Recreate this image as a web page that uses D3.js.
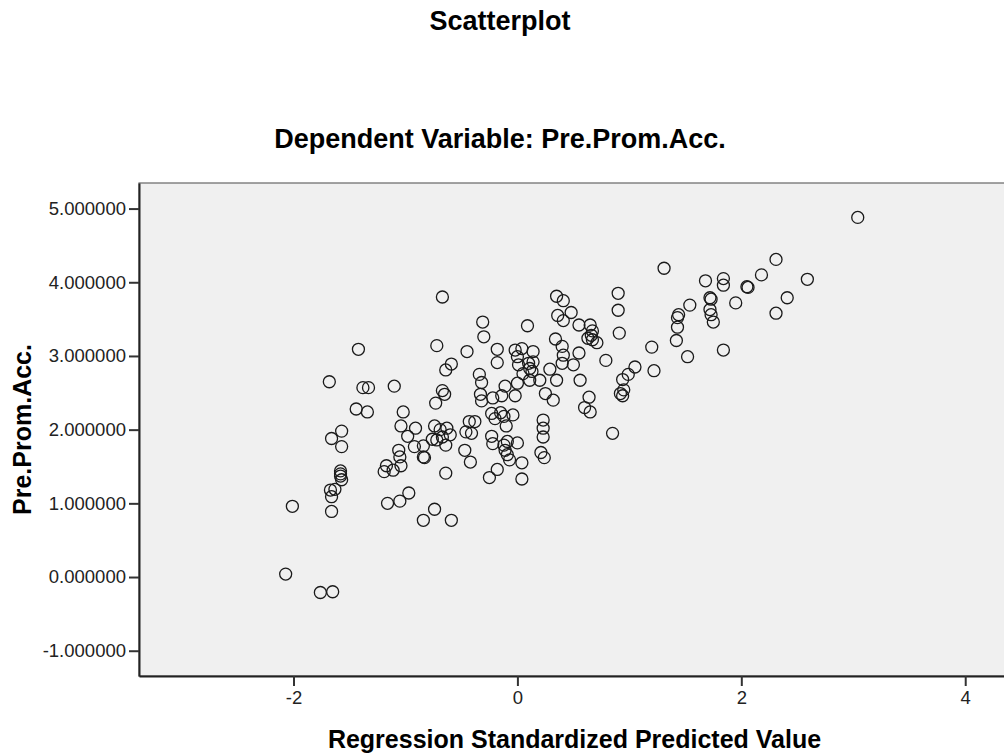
<!DOCTYPE html>
<html>
<head>
<meta charset="utf-8">
<script src="https://cdn.jsdelivr.net/npm/d3@7"></script>
<style>
    body { margin: 0; background: #fff; }
    text { font-family: "Liberation Sans", Arial, sans-serif; }
</style>
</head>
<body>
<div id="canvas"></div>
<script>
// Regression Standardized Predicted Value (x) and Pre.Prom.Acc. (y)
const predicted = [
    -2.07, -1.76, -1.65, -2.01, -1.66, -1.66, -1.67, -1.63, -1.58, -1.58, -1.58, -1.57,
    -1.66, -1.57, -1.57, -1.68, -1.42, -1.38, -1.33, -1.44, -1.34, -1.10, -1.17, -1.19,
    -1.11, -1.04, -1.16, -1.05, -0.97, -1.02, -1.04, -0.98, -0.91, -0.92, -0.84, -0.84,
    -1.06, -1.05, -0.84, -0.74, -0.59, -0.64, -0.67, -0.72, -0.45, -0.59, -0.64, -0.67,
    -0.65, -0.73, -0.74, -0.69, -0.67, -0.76, -0.64, -0.72, -0.83, -0.63, -0.60, -0.43,
    -0.38, -0.46, -0.41, -0.47, -0.42, -0.31, -0.30, -0.34, -0.32, -0.33, -0.32, -0.22,
    -0.14, -0.18, -0.18, -0.11, -0.02, -0.23, -0.15, -0.20, -0.04, -0.10, -0.12, -0.23,
    -0.22, -0.12, -0.09, 0.00, -0.11, -0.09, -0.07, 0.04, -0.18, -0.25, 0.04, 0.09,
    -0.02, 0.04, 0.14, 0.00, 0.01, 0.10, 0.14, 0.11, 0.05, 0.13, 0.29, 0.35,
    0.20, 0.11, 0.00, 0.25, 0.32, 0.23, 0.23, 0.23, 0.21, 0.24, 0.35, 0.41,
    0.48, 0.36, 0.41, 0.55, 0.34, 0.40, 0.41, 0.40, 0.50, 0.55, 0.56, 0.64,
    0.60, 0.65, 0.65, 0.67, 0.63, 0.67, 0.71, 0.66, 0.90, 0.90, 0.91, 0.79,
    1.05, 0.99, 0.94, 0.95, 0.92, 0.94, 0.85, 1.20, 1.22, 1.31, 1.54, 1.43,
    1.44, 1.43, 1.42, 1.52, 1.68, 1.84, 1.84, 2.05, 2.06, 2.18, 2.31, 2.59,
    2.41, 2.31, 1.72, 1.73, 1.95, 1.72, 1.73, 1.75, 1.84, 3.04
];
const preProm = [
    0.04, -0.21, -0.20, 0.96, 0.89, 1.09, 1.18, 1.19, 1.44, 1.40, 1.37, 1.32,
    1.88, 1.98, 1.77, 2.65, 3.09, 2.57, 2.57, 2.28, 2.24, 2.59, 1.51, 1.43,
    1.45, 1.51, 1.00, 1.03, 1.14, 2.24, 2.05, 1.91, 2.02, 1.77, 1.78, 1.63,
    1.72, 1.63, 0.77, 0.92, 0.77, 1.41, 3.80, 3.14, 3.06, 2.89, 2.81, 2.53,
    2.48, 2.36, 2.05, 2.00, 1.90, 1.87, 1.79, 1.86, 1.62, 2.02, 1.93, 2.11,
    2.11, 1.97, 1.95, 1.72, 1.56, 3.46, 3.26, 2.75, 2.64, 2.48, 2.39, 2.43,
    2.46, 3.09, 2.91, 2.59, 2.46, 2.22, 2.23, 2.15, 2.20, 2.05, 2.18, 1.91,
    1.81, 1.79, 1.84, 1.82, 1.72, 1.66, 1.59, 1.55, 1.46, 1.35, 1.33, 3.41,
    3.08, 3.10, 3.06, 2.99, 2.88, 2.90, 2.92, 2.83, 2.76, 2.79, 2.82, 2.67,
    2.67, 2.67, 2.63, 2.49, 2.40, 2.13, 2.02, 1.90, 1.69, 1.62, 3.81, 3.75,
    3.59, 3.55, 3.48, 3.42, 3.23, 3.13, 3.01, 2.90, 2.88, 3.04, 2.67, 2.44,
    2.30, 2.24, 3.42, 3.34, 3.24, 3.22, 3.18, 3.28, 3.85, 3.62, 3.31, 2.94,
    2.85, 2.75, 2.68, 2.54, 2.49, 2.46, 1.95, 3.12, 2.80, 4.19, 3.69, 3.52,
    3.56, 3.39, 3.21, 2.99, 4.02, 4.05, 3.96, 3.94, 3.93, 4.10, 4.31, 4.04,
    3.79, 3.58, 3.79, 3.77, 3.72, 3.63, 3.56, 3.46, 3.08, 4.88
];
const xTicks = [-2, 0, 2, 4];
const yTicks = [-1, 0, 1, 2, 3, 4, 5];

const chartTitle = 'Scatterplot';
const subTitle = 'Dependent Variable: Pre.Prom.Acc.';
const xTitle = 'Regression Standardized Predicted Value';
const yTitle = 'Pre.Prom.Acc.';

//dimensions
const width = 1004;
const height = 754;
const margin = { top: 183, right: -6, bottom: 78, left: 139 };
const graphWidth = width - margin.left - margin.right;
const graphHeight = height - margin.top - margin.bottom;

const svg = d3.select('#canvas')
    .append('svg')
    .attr('width', width)
    .attr('height', height);

const graph = svg.append('g')
    .attr('transform', `translate(${margin.left}, ${margin.top})`);

//scales
const x = d3.scaleLinear().domain([-3.38, 4.40]).range([0, graphWidth]);
const y = d3.scaleLinear().domain([-1.343, 5.347]).range([graphHeight, 0]);

// plot background + frame
graph.append('rect')
    .attr('width', graphWidth)
    .attr('height', graphHeight)
    .attr('fill', '#f0f0f0')
    .attr('stroke', '#666')
    .attr('stroke-width', 1.2);

// points
graph.append('g')
    .selectAll('circle')
    .data(predicted.map((d, i) => ({ x: d, y: preProm[i] })))
    .join('circle')
    .attr('cx', d => x(d.x))
    .attr('cy', d => y(d.y))
    .attr('r', 6)
    .attr('fill', 'none')
    .attr('stroke', '#1a1a1a')
    .attr('stroke-width', 1.3);

//axes (plain hyphen for negatives, like the original)
const xAxis = d3.axisBottom(x)
    .tickValues(xTicks)
    .tickSize(10)
    .tickSizeOuter(0)
    .tickPadding(5)
    .tickFormat(d => String(d));

const yAxis = d3.axisLeft(y)
    .tickValues(yTicks)
    .tickSize(10)
    .tickSizeOuter(0)
    .tickPadding(3)
    .tickFormat(d => d.toFixed(6));

const xAxisGroup = graph.append('g')
    .attr('transform', `translate(0, ${graphHeight})`)
    .call(xAxis);

const yAxisGroup = graph.append('g')
    .call(yAxis);

[xAxisGroup, yAxisGroup].forEach(g => {
    g.select('.domain').attr('stroke', '#222').attr('stroke-width', 2);
    g.selectAll('.tick line').attr('stroke', '#333').attr('stroke-width', 2);
    g.selectAll('.tick text')
        .attr('fill', '#222')
        .style('font-size', '18.5px')
        .style('font-family', '"Liberation Sans", Arial, sans-serif');
});

// titles
svg.append('text')
    .attr('x', 500)
    .attr('y', 30)
    .attr('text-anchor', 'middle')
    .style('font-size', '27px')
    .style('font-weight', 'bold')
    .text(chartTitle);

svg.append('text')
    .attr('x', 500)
    .attr('y', 148)
    .attr('text-anchor', 'middle')
    .style('font-size', '27px')
    .style('font-weight', 'bold')
    .text(subTitle);

svg.append('text')
    .attr('x', margin.left + graphWidth / 2)
    .attr('y', 748)
    .attr('text-anchor', 'middle')
    .style('font-size', '25px')
    .style('font-weight', 'bold')
    .text(xTitle);

svg.append('text')
    .attr('transform', `translate(31, ${margin.top + graphHeight / 2}) rotate(-90)`)
    .attr('text-anchor', 'middle')
    .style('font-size', '25px')
    .style('font-weight', 'bold')
    .text(yTitle);
</script>
</body>
</html>
